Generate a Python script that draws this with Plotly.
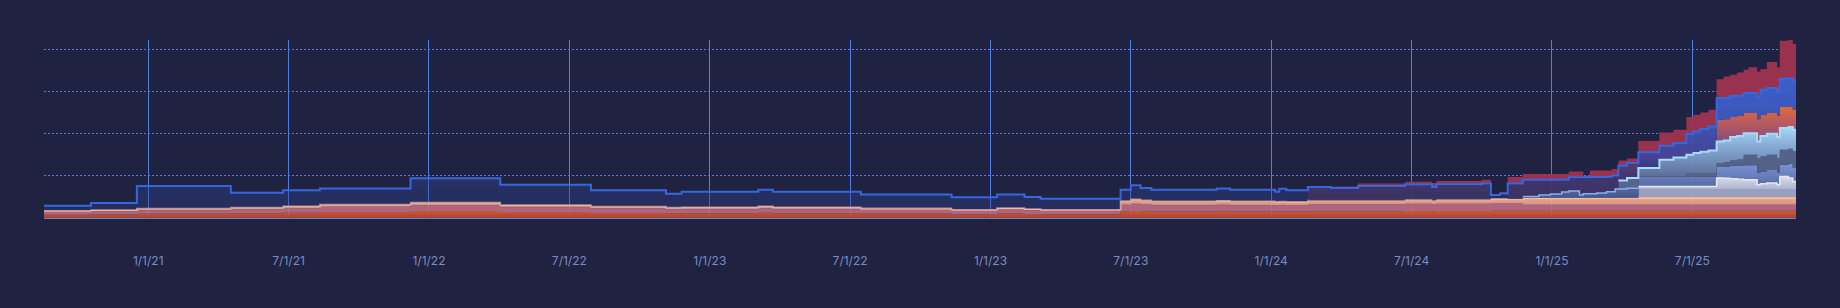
import plotly.graph_objects as go

# ---------------- data ----------------
WEEKS = [-19.3, -10.6, -2.1, 15.3, 25.0, 31.8, 48.6, 65.2, 82.0, 95.9,
         98.8, 113.0, 115.7, 132.0, 148.8, 157.2, 162.3, 165.3, 180.1, 182.0,
         183.8, 185.8, 197.9, 200.4, 208.7, 209.5, 210.8, 214.8, 219.0, 224.1,
         232.8, 237.8, 238.6, 247.0, 248.7, 250.4, 251.8, 254.6, 257.6, 259.7,
         261.8, 263.1, 265.1, 265.8, 267.0, 268.3, 270.1, 271.1, 271.7, 272.3,
         273.9, 276.0, 279.9, 282.5, 284.9, 286.2, 287.5, 289.0, 290.5, 291.8,
         293.0, 294.3, 295.5, 296.4, 298.0, 298.6, 299.8, 301.7, 302.2, 303.8,
         304.6, 305.2]

TICK_WEEKS = [0, 26, 52, 78, 104, 130, 156, 182, 208, 234, 260, 286]
TICK_LABELS = ["1/1/21", "7/1/21", "1/1/22", "7/1/22", "1/1/23", "7/1/22",
               "1/1/23", "7/1/23", "1/1/24", "7/1/24", "1/1/25", "7/1/25"]

S1_orange = [2.0, 2.1, 2.5, 2.8, 3.1, 3.6, 4.1, 3.5, 3.0, 2.8,
             2.8, 3.1, 2.8, 2.6, 2.2, 2.7, 2.4, 2.2, 4.0, 4.2,
             4.0, 3.9, 4.0, 3.9, 3.8, 3.9, 3.8, 4.0, 4.0, 4.0,
             4.2, 4.0, 4.2, 4.2, 4.3, 4.3, 4.3, 4.3, 4.3, 4.3,
             4.3, 4.3, 4.3, 4.3, 4.3, 4.3, 4.3, 4.3, 4.3, 4.3,
             4.3, 4.3, 4.3, 4.3, 4.3, 4.3, 4.3, 4.3, 4.3, 4.3,
             4.3, 4.3, 4.3, 4.3, 4.3, 4.3, 4.3, 4.3, 4.3, 4.3,
             4.3, 4.3]
S2_mauve = [1.6, 1.8, 2.1, 2.3, 2.6, 3.0, 3.5, 2.9, 2.6, 2.3,
            2.4, 2.6, 2.4, 2.2, 1.9, 2.2, 2.0, 1.9, 3.8, 4.2,
            4.0, 3.7, 3.9, 3.7, 3.6, 3.6, 3.6, 4.0, 4.0, 4.0,
            4.2, 4.0, 4.2, 4.2, 4.3, 4.3, 4.3, 3.6, 3.6, 3.6,
            3.6, 3.6, 3.6, 3.6, 3.6, 3.6, 3.6, 3.6, 3.6, 3.6,
            3.6, 3.6, 3.6, 3.6, 3.6, 3.6, 3.6, 3.6, 3.6, 3.6,
            3.6, 3.6, 3.6, 3.6, 3.6, 3.6, 3.6, 3.6, 3.6, 3.6,
            3.6, 3.6]
S3_peach = [0.7, 0.8, 0.9, 1.0, 1.2, 1.3, 1.5, 1.3, 1.1, 1.0,
            1.1, 1.2, 1.1, 0.9, 0.8, 1.0, 0.9, 0.8, 2.2, 2.6,
            2.4, 2.2, 2.3, 2.2, 2.1, 2.2, 2.1, 2.4, 2.4, 2.4,
            2.6, 2.4, 2.6, 2.6, 2.7, 2.7, 2.7, 3.9, 3.9, 3.9,
            3.9, 3.9, 3.9, 3.9, 3.9, 3.9, 3.9, 3.9, 3.9, 3.9,
            3.9, 3.9, 3.9, 3.9, 3.9, 3.9, 3.9, 3.9, 3.9, 3.9,
            3.9, 3.9, 3.9, 3.9, 3.9, 3.9, 3.9, 3.9, 3.9, 3.9,
            3.9, 3.9]
S4_lavender = [0] * 51 + [5.4] * 21
S5_white = [0] * 51 + [1.5, 1.5, 1.5, 1.5, 1.5, 1.5, 1.5,
                       6.5, 6.3, 6.0, 5.8, 5.5, 5.5, 2.5, 3.1, 3.5,
                       2.5, 7.4, 6.5, 4.5, 4.5]
S6_periwinkle = [0] * 37 + [1.0, 1.8, 2.4, 3.6, 4.2, 1.8, 2.6, 2.6, 3.0,
                            3.8, 3.8, 5.4, 5.4, 5.8,
                            5.9, 5.9, 5.9, 5.9, 5.9, 5.9, 5.9,
                            6.5, 6.9, 7.8, 8.0, 8.6, 8.6, 7.3, 7.3, 7.7,
                            7.3, 7.0, 8.5, 7.9, 7.9]
S7_slate = [0] * 54 + [2.1, 2.1, 2.1, 2.1,
                       2.4, 2.6, 3.1, 3.6, 6.2, 6.2, 8.6, 8.9, 9.1,
                       8.6, 8.9, 8.8, 9.9, 9.9]
S8_sky = [0] * 49 + [5.1, 6.1,
                     5.0, 9.9, 11.3, 10.8, 11.8, 12.6, 13.3,
                     12.8, 13.0, 13.9, 14.0, 12.8, 12.8, 9.8, 12.1, 12.4,
                     12.4, 12.8, 12.9, 12.8, 12.8]
S9_ember = [0] * 27 + [7.2, 6.6, 7.8, 8.1, 7.2, 8.2, 8.7, 0, 0, 8.4,
                       9.1, 8.3, 7.7, 6.5, 7.3, 9.7, 8.9, 9.1, 8.7, 7.9,
                       8.8, 7.2, 7.9, 8.1,
                       0, 0, 0, 0, 0, 0, 0,
                       12.8, 12.6, 11.8, 11.8, 11.9, 11.9, 13.2, 12.6, 12.3,
                       12.6, 12.5, 12.2, 11.9, 11.9]
S10_blue = [3.0, 4.2, 13.5, 8.9, 9.5, 9.6, 14.4, 12.0, 9.8, 8.2,
            9.3, 9.9, 9.3, 8.3, 7.4, 8.1, 7.1, 6.5, 6.8, 8.4,
            7.4, 7.0, 7.3, 7.0, 6.1, 7.7, 6.9, 0.8, 0.8, 0.8,
            0.8, 0.8, 0.8, 0.8, 2.4, 3.2, 0.8, 0.8, 0.8, 0.8,
            0.8, 0.8, 0.8, 0.8, 0.8, 0.8, 0.8, 0.8, 0.8, 0.8,
            0.8, 9.3, 8.3, 8.5, 12.4, 12.8, 13.4, 14.3, 12.9, 12.5,
            12.7, 12.1, 11.9, 11.9, 13.0, 14.8, 14.8, 14.4, 16.7, 16.8,
            17.3, 17.3]
S11_crimson = [0] * 27 + [0.3, 0.9, 1.5, 1.6, 2.3, 1.9, 2.2, 0.5, 0.7, 3.8,
                          3.4, 3.4, 3.4, 3.4, 3.5, 3.5, 1.0, 3.9, 3.9, 3.9,
                          3.8, 3.8, 3.1, 2.7,
                          6.8, 7.9, 7.9, 9.9, 9.9, 9.9, 9.9,
                          11.2, 12.8, 12.4, 13.8, 13.8, 15.3, 15.3, 12.3, 15.4,
                          14.4, 22.5, 22.6, 21.8, 21.8]

SERIES = [S1_orange, S2_mauve, S3_peach, S4_lavender, S5_white, S6_periwinkle,
          S7_slate, S8_sky, S9_ember, S10_blue, S11_crimson]

# ---------------- styles ----------------
BG = "#1f2341"


def grad(start, stop, stops):
    return dict(type="vertical", start=start, stop=stop, colorscale=stops)


STYLES = [
    dict(fillcolor="rgba(205,86,48,0.94)",
         fillgradient=grad(0, 4.5, [[0, "rgba(172,70,54,0.93)"], [1, "rgba(218,94,46,0.96)"]])),
    dict(fillcolor="rgba(186,106,132,0.93)"),
    dict(fillcolor="rgba(232,160,140,0.95)",
         fillgradient=grad(4, 12, [[0, "rgba(206,128,136,0.94)"], [1, "rgba(244,174,140,0.97)"]]),
         line=dict(color="#f8bb9a", width=1.7)),
    dict(fillcolor="rgba(160,166,198,0.95)"),
    dict(fillcolor="rgba(210,214,232,0.97)",
         fillgradient=grad(17, 25, [[0, "rgba(176,183,212,0.97)"], [1, "rgba(226,229,241,0.97)"]])),
    dict(fillcolor="rgba(110,132,200,0.95)",
         fillgradient=grad(11, 32, [[0, "rgba(70,86,138,0.95)"], [1, "rgba(126,150,218,0.96)"]])),
    dict(fillcolor="rgba(86,101,142,0.96)"),
    dict(fillcolor="rgba(130,165,210,0.96)",
         fillgradient=grad(22, 54, [[0, "rgba(88,104,146,0.96)"], [0.5, "rgba(128,160,205,0.96)"],
                                    [1, "rgba(168,220,250,0.97)"]])),
    dict(fillcolor="rgba(70,56,110,0.95)",
         fillgradient=grad(8, 66, [[0, "rgba(58,50,98,0.93)"], [0.3, "rgba(68,55,112,0.95)"],
                                   [0.6, "rgba(128,76,128,0.95)"], [0.82, "rgba(186,92,100,0.96)"],
                                   [1, "rgba(232,108,58,0.97)"]])),
    dict(fillcolor="rgba(48,66,150,0.45)",
         fillgradient=grad(0, 85, [[0, "rgba(44,62,140,0.36)"], [0.24, "rgba(50,66,150,0.40)"],
                                   [0.42, "rgba(74,68,150,0.93)"], [0.68, "rgba(60,88,190,0.95)"],
                                   [1, "rgba(62,98,208,0.96)"]]),
         line=dict(color="#3568dd", width=2)),
    dict(fillcolor="rgba(160,52,80,0.95)"),
]

fig = go.Figure()
for vals, st in zip(SERIES, STYLES):
    line = st.get("line", dict(width=0))
    kw = dict(fillcolor=st["fillcolor"])
    if "fillgradient" in st:
        kw["fillgradient"] = st["fillgradient"]
    fig.add_trace(go.Scatter(
        x=WEEKS, y=vals, stackgroup="all", mode="lines",
        line=dict(shape="hv", **line), hoverinfo="skip", **kw))


# edge lines for the layers that only exist in part of the range
def cumulative(upto):
    return [sum(s[i] for s in SERIES[:upto + 1]) for i in range(len(WEEKS))]


def masked(top, present):
    out = []
    for i in range(len(WEEKS)):
        if present[i]:
            out.append(top[i])
        elif i > 0 and present[i - 1]:
            out.append(top[i - 1])
        else:
            out.append(None)
    return out


peri_present = [S6_periwinkle[i] > 0 and S4_lavender[i] == 0 for i in range(len(WEEKS))]
white_present = [v > 0 for v in S5_white]
sky_present = [v > 0 for v in S8_sky]

for top, present, color, width in [
    (cumulative(5), peri_present, "#88b0f0", 1.5),
    (cumulative(4), white_present, "#e4e7f2", 1.5),
    (cumulative(7), sky_present, "#a6dcfa", 2),
]:
    fig.add_trace(go.Scatter(
        x=WEEKS, y=masked(top, present), mode="lines", connectgaps=False,
        line=dict(shape="hv", color=color, width=width), hoverinfo="skip"))

fig.update_layout(
    width=1840, height=308,
    margin=dict(l=44, r=44, t=40, b=90),
    paper_bgcolor=BG, plot_bgcolor=BG,
    showlegend=False,
    xaxis=dict(
        range=[WEEKS[0], WEEKS[-1]],
        tickmode="array", tickvals=TICK_WEEKS, ticktext=TICK_LABELS,
        showgrid=True, gridcolor="#4f7fe3", gridwidth=1,
        zeroline=False,
        showline=True, linecolor="#7482b8", linewidth=1,
        ticks="outside", ticklen=32, tickcolor="rgba(0,0,0,0)",
        tickfont=dict(family="Inter, Roboto, sans-serif", size=12, color="#7b8cc2"),
    ),
    yaxis=dict(
        range=[0, 105.5],
        tickmode="array", tickvals=[25, 50, 75, 100],
        showticklabels=False, showgrid=True, gridcolor="#5a7bd6", gridwidth=1,
        griddash="2px,2px", zeroline=False, showline=False,
    ),
)

fig.write_html("out.html")
